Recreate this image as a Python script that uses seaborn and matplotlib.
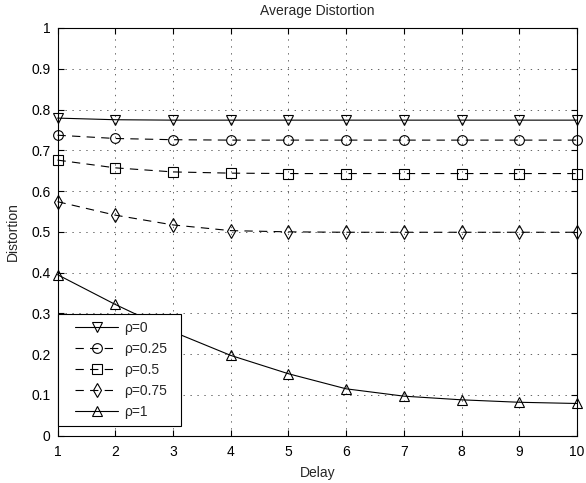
import numpy as np
import pandas as pd
import seaborn as sns
import matplotlib
matplotlib.use("Agg")
import matplotlib.pyplot as plt
from matplotlib.legend_handler import HandlerLine2D

delay = [1, 2, 3, 4, 5, 6, 7, 8, 9, 10]
rho_labels = ["ρ=0", "ρ=0.25", "ρ=0.5", "ρ=0.75", "ρ=1"]
d_rho0 = [0.779, 0.775, 0.774, 0.774, 0.774, 0.774, 0.774, 0.774, 0.774, 0.774]
d_rho025 = [0.737, 0.729, 0.726, 0.725, 0.725, 0.725, 0.725, 0.725, 0.725, 0.725]
d_rho05 = [0.676, 0.657, 0.647, 0.644, 0.643, 0.643, 0.643, 0.643, 0.643, 0.643]
d_rho075 = [0.574, 0.541, 0.517, 0.503, 0.500, 0.499, 0.499, 0.499, 0.499, 0.499]
d_rho1 = [0.395, 0.322, 0.255, 0.197, 0.152, 0.115, 0.097, 0.088, 0.082, 0.079]

series = [d_rho0, d_rho025, d_rho05, d_rho075, d_rho1]
markers = ["v", "o", "s", "d", "^"]
linestyles = ["-", (0, (6, 4.5)), (0, (6, 4.5)), (0, (6, 4.5)), "-"]

sns.set_style("ticks")
plt.rcParams["font.family"] = ["Liberation Sans", "DejaVu Sans"]
plt.rcParams["lines.scale_dashes"] = False

df = pd.DataFrame({
    "Delay": np.tile(delay, len(series)),
    "Distortion": np.concatenate(series),
    "rho": np.repeat(rho_labels, len(delay)),
})

W, H = 586, 483
fig = plt.figure(figsize=(W / 100, H / 100), dpi=100)
ax = fig.add_axes([57.5 / W, 1 - 435.7 / H, 519.5 / W, 407.7 / H])

for lab, mk, ls in zip(rho_labels, markers, linestyles):
    sub = df[df["rho"] == lab]
    sns.lineplot(data=sub, x="Delay", y="Distortion", ax=ax, color="black",
                 linewidth=0.8, linestyle=ls, marker=mk, markersize=7,
                 markerfacecolor="none", markeredgecolor="black",
                 markeredgewidth=0.8, label=lab, clip_on=False, zorder=2)

ax.set_xlim(1, 10)
ax.set_ylim(0, 1)
ax.set_xticks(range(1, 11))
ax.set_yticks(np.round(np.arange(0, 1.01, 0.1), 1))
ax.set_yticklabels(["0", "0.1", "0.2", "0.3", "0.4", "0.5", "0.6", "0.7", "0.8", "0.9", "1"])
ax.grid(True, linestyle=(0, (1, 4)), color="black", linewidth=0.6, alpha=0.7)
ax.tick_params(direction="in", length=4, width=0.8, labelsize=10, top=True, right=True,
               colors="black")
ax.tick_params(axis="x", pad=7)
ax.tick_params(axis="y", pad=5)
for sp in ax.spines.values():
    sp.set_visible(True)
    sp.set_linewidth(0.8)
    sp.set_color("black")
    sp.set_zorder(5)
ax.set_xlabel("Delay", fontsize=10, labelpad=5)
ax.set_ylabel("Distortion", fontsize=10, labelpad=8)
ax.set_title("Average Distortion", fontsize=10, pad=9)

leg = ax.legend(loc="lower left", fontsize=10, frameon=True, fancybox=False,
                edgecolor="black", framealpha=1, facecolor="white",
                bbox_to_anchor=(0.0015, 0.0245, (181 - 58.3) / 519.5, 0.27),
                mode="expand", borderaxespad=0,
                handlelength=3.83, handletextpad=0.4, labelspacing=0.5, borderpad=0.5,
                handler_map={ln: HandlerLine2D(xpad=0.73) for ln in ax.get_lines()})
leg.get_frame().set_linewidth(0.8)
leg.set_zorder(10)

fig.savefig("out.png", dpi=100)
